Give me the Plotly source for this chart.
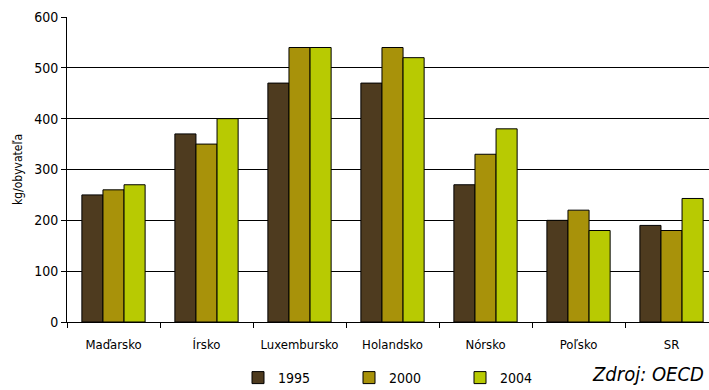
import plotly.graph_objects as go

categories = ["Maďarsko", "Írsko", "Luxembursko", "Holandsko", "Nórsko", "Poľsko", "SR"]
years = ["1995", "2000", "2004"]
v1995 = [250, 370, 470, 470, 270, 200, 190]
v2000 = [260, 350, 540, 540, 330, 220, 180]
v2004 = [270, 400, 540, 520, 380, 180, 243]
colors = ["#4E3B1F", "#A8920A", "#B8CA02"]

FONT = "Liberation Sans Narrow, Arial Narrow, DejaVu Sans Condensed, sans-serif"

fig = go.Figure()
for name, vals, col in zip(years, [v1995, v2000, v2004], colors):
    fig.add_trace(go.Bar(x=categories, y=vals, name=name,
                         marker=dict(color=col, line=dict(color="#000000", width=1))))

fig.update_layout(
    width=709, height=390,
    margin=dict(l=67, r=0, t=17, b=68, autoexpand=False),
    paper_bgcolor="white", plot_bgcolor="white",
    barmode="group", bargap=0.32, bargroupgap=0,
    font=dict(family=FONT, size=13, color="#000000"),
    showlegend=True,
    legend=dict(orientation="h", x=(238 - 67) / 642, xanchor="left",
                yref="container", y=(390 - 362) / 390, yanchor="top",
                entrywidth=66, entrywidthmode="pixels", itemwidth=30,
                font=dict(family=FONT, size=14), traceorder="normal"),
    xaxis=dict(range=[-0.5, 6.403], showline=True, linecolor="#000000", linewidth=1,
               ticks="outside", tickson="boundaries", ticklen=5, tickcolor="#000000",
               ticklabelstandoff=10,
               showgrid=False, tickfont=dict(family=FONT, size=13)),
    yaxis=dict(range=[0, 600], dtick=100, showline=True, linecolor="#000000", linewidth=1,
               ticks="outside", ticklen=5, tickcolor="#000000",
               showgrid=True, gridcolor="#000000", gridwidth=1, zeroline=False,
               title=dict(text="kg/obyvateľa", font=dict(family=FONT, size=12), standoff=8),
               tickfont=dict(family=FONT, size=14)),
    annotations=[dict(text="<i>Zdroj: OECD</i>", xref="paper", yref="paper",
                      x=1.0, y=0, xshift=-3, yshift=-66, xanchor="right", yanchor="bottom",
                      showarrow=False, font=dict(family=FONT, size=20, color="#000000"))],
)

fig.write_html("out.html")
